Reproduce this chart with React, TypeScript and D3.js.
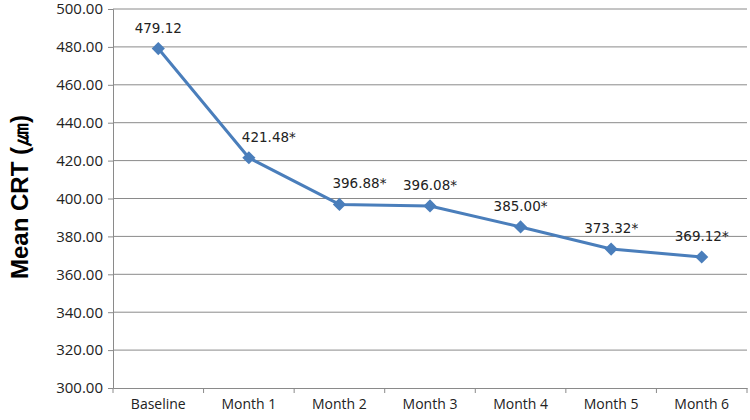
import { useEffect, useRef } from "react";
import * as d3 from "d3";

const categories = ["Baseline", "Month 1", "Month 2", "Month 3", "Month 4", "Month 5", "Month 6"];
const meanCrt = [479.12, 421.48, 396.88, 396.08, 385.0, 373.32, 369.12];
const significant = [false, true, true, true, true, true, true];
const yTicks = [300, 320, 340, 360, 380, 400, 420, 440, 460, 480, 500];

const W = 750;
const H = 420;

export default function App() {
  const svgRef = useRef<SVGSVGElement>(null);

  useEffect(() => {
    const margin = { top: 9, right: 3, bottom: 32, left: 113 };
    const w = W - margin.left - margin.right;
    const h = H - margin.top - margin.bottom;

    const svg = d3.select(svgRef.current);
    svg.selectAll("*").remove();

    const g = svg.append("g").attr("transform", `translate(${margin.left},${margin.top})`);

    const x = d3.scaleBand().domain(categories).range([0, w]);
    const y = d3.scaleLinear().domain([300, 500]).range([h, 0]);

    // gridlines
    g.append("g")
      .selectAll("line")
      .data(yTicks.slice(1))
      .join("line")
      .attr("x1", 0)
      .attr("x2", w)
      .attr("y1", (d) => y(d))
      .attr("y2", (d) => y(d))
      .attr("stroke", "#8a8a8a")
      .attr("stroke-width", 1);

    // y axis
    const yAxis = g
      .append("g")
      .call(
        d3
          .axisLeft(y)
          .tickValues(yTicks)
          .tickSize(5)
          .tickPadding(5)
          .tickFormat((d) => d3.format(".2f")(d as number))
      );
    yAxis.selectAll("path,line").attr("stroke", "#8a8a8a");
    yAxis
      .selectAll("text")
      .attr("font-family", "Open Sans, sans-serif")
      .attr("font-size", 15)
      .attr("fill", "#222");

    // x axis
    const xAxis = g
      .append("g")
      .attr("transform", `translate(0,${h})`)
      .call(d3.axisBottom(x).tickSize(0).tickPadding(11));
    xAxis.select(".domain").attr("stroke", "#8a8a8a");
    xAxis
      .selectAll("text")
      .attr("font-family", "Open Sans, sans-serif")
      .attr("font-size", 14)
      .attr("fill", "#222");
    // tick marks between categories
    g.append("g")
      .selectAll("line")
      .data(d3.range(categories.length + 1))
      .join("line")
      .attr("x1", (i) => i * x.bandwidth())
      .attr("x2", (i) => i * x.bandwidth())
      .attr("y1", h)
      .attr("y2", h + 5)
      .attr("stroke", "#8a8a8a");

    const cx = (i: number) => x(categories[i])! + x.bandwidth() / 2;

    const line = d3
      .line<number>()
      .x((d, i) => cx(i))
      .y((d) => y(d));

    g.append("path")
      .datum(meanCrt)
      .attr("d", line)
      .attr("fill", "none")
      .attr("stroke", "#4a7ebb")
      .attr("stroke-width", 3)
      .attr("stroke-linejoin", "round");

    g.append("g")
      .selectAll("path")
      .data(meanCrt)
      .join("path")
      .attr("d", d3.symbol(d3.symbolDiamond2, 110)())
      .attr("transform", (d, i) => `translate(${cx(i)},${y(d)})`)
      .attr("fill", "#4a7ebb");

    g.append("g")
      .selectAll("text")
      .data(meanCrt)
      .join("text")
      .attr("x", (d, i) => cx(i) + (i === 1 || i === 2 ? 20 : 0))
      .attr("y", (d) => y(d) - 16)
      .attr("text-anchor", "middle")
      .attr("font-family", "DejaVu Sans, sans-serif")
      .attr("font-size", 13.5)
      .attr("fill", "#222")
      .text((d, i) => d3.format(".2f")(d) + (significant[i] ? "*" : ""));

    // y title
    svg
      .append("text")
      .attr("transform", `translate(28,197) rotate(-90)`)
      .attr("text-anchor", "middle")
      .attr("font-family", "Liberation Sans, Arial, sans-serif")
      .attr("font-weight", "bold")
      .attr("font-size", 24)
      .attr("fill", "#000")
      .text("Mean CRT (㎛)");
  }, []);

  return (
    <svg
      ref={svgRef}
      width={W}
      height={H}
      style={{ position: "absolute", left: 0, top: 0, background: "#fff" }}
    />
  );
}
